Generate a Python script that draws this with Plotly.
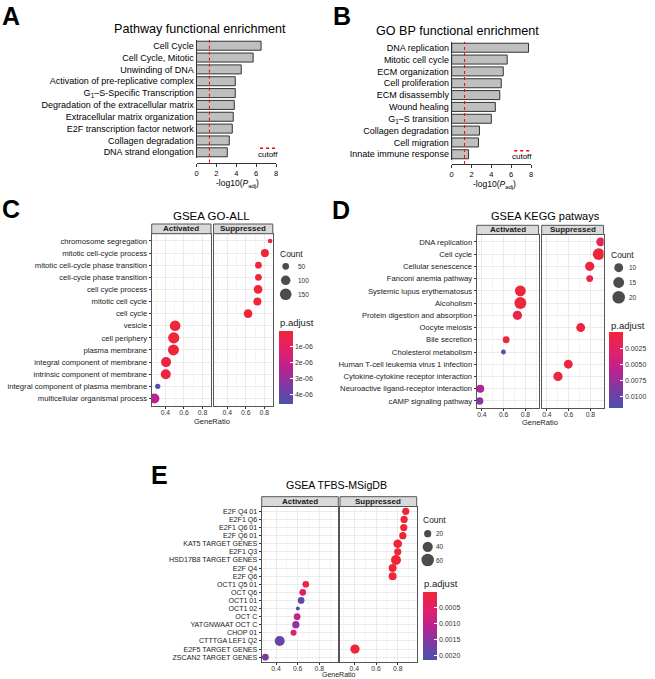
import plotly.graph_objects as go

W, H = 655, 679
FONT = "Arial, Liberation Sans, sans-serif"

# ---------------- data ----------------
A_TERMS = ["Cell Cycle", "Cell Cycle, Mitotic", "Unwinding of DNA",
           "Activation of pre-replicative complex",
           "G<sub>1</sub>–S-Specific Transcription",
           "Degradation of the extracellular matrix",
           "Extracellular matrix organization", "E2F transcription factor network",
           "Collagen degradation", "DNA strand elongation"]
A_VALUES = [6.5, 5.7, 4.5, 3.9, 3.9, 3.8, 3.7, 3.6, 3.3, 3.1]

B_TERMS = ["DNA replication", "Mitotic cell cycle", "ECM organization",
           "Cell proliferation", "ECM disassembly", "Wound healing",
           "G<sub>1</sub>–S transition", "Collagen degradation", "Cell migration",
           "Innate immune response"]
B_VALUES = [7.75, 5.6, 5.2, 5.0, 4.85, 4.4, 4.0, 2.8, 2.7, 1.7]

CUTOFF = 1.3  # -log10(0.05)
BAR_TICKS = [0, 2, 4, 6, 8]

C_TERMS = ["chromosome segregation", "mitotic cell-cycle process",
           "mitotic cell-cycle phase transition", "cell-cycle phase transition",
           "cell cycle process", "mitotic cell cycle", "cell cycle", "vesicle",
           "cell periphery", "plasma membrane", "integral component of membrane",
           "intrinsic component of membrane", "integral component of plasma membrane",
           "multicellular organismal process"]
C_GROUP = ["Suppressed", "Suppressed", "Suppressed", "Suppressed", "Suppressed",
           "Suppressed", "Suppressed", "Activated", "Activated", "Activated",
           "Activated", "Activated", "Activated", "Activated"]
C_RATIO = [0.863, 0.807, 0.737, 0.737, 0.733, 0.726, 0.625, 0.505, 0.49, 0.487,
           0.407, 0.404, 0.317, 0.281]
C_COUNT = [24, 71, 50, 50, 84, 71, 84, 127, 141, 134, 111, 111, 31, 111]
C_PADJ = [1e-8, 2e-8, 1e-7, 1e-7, 2e-8, 2e-8, 5e-8, 5e-8, 5e-8, 5e-8, 2e-7, 2e-7,
          4.5e-6, 2.3e-6]
C_SIZE_KEYS = [50, 100, 150]
C_P_TICKS = [1e-6, 2e-6, 3e-6, 4e-6]
C_P_LABELS = ["1e-06", "2e-06", "3e-06", "4e-06"]
C_P_RANGE = [0, 4.6e-6]

D_TERMS = ["DNA replication", "Cell cycle", "Cellular senescence",
           "Fanconi anemia pathway", "Systemic lupus erythematosus", "Alcoholism",
           "Protein digestion and absorption", "Oocyte meiosis", "Bile secretion",
           "Cholesterol metabolism", "Human T-cell leukemia virus 1 infection",
           "Cytokine-cytokine receptor interaction",
           "Neuroactive ligand-receptor interaction", "cAMP signaling pathway"]
D_GROUP = ["Suppressed", "Suppressed", "Suppressed", "Suppressed", "Activated",
           "Activated", "Activated", "Suppressed", "Activated", "Activated",
           "Suppressed", "Suppressed", "Activated", "Activated"]
D_RATIO = [0.895, 0.877, 0.794, 0.794, 0.754, 0.754, 0.727, 0.711, 0.623, 0.598,
           0.597, 0.502, 0.385, 0.379]
D_COUNT = [10, 18, 11, 6, 15, 18, 11, 10, 6, 3, 10, 11, 8, 7]
D_PADJ = [0.0015, 0.0002, 0.0005, 0.0012, 0.0003, 0.0003, 0.0011, 0.0005, 0.0006,
          0.0105, 0.0005, 0.0004, 0.0065, 0.0085]
D_SIZE_KEYS = [10, 15, 20]
D_P_TICKS = [0.0025, 0.005, 0.0075, 0.01]
D_P_LABELS = ["0.0025", "0.0050", "0.0075", "0.0100"]
D_P_RANGE = [0, 0.0117]

E_TERMS = ["E2F Q4 01", "E2F1 Q6", "E2F1 Q6 01", "E2F Q6 01", "KAT5 TARGET GENES",
           "E2F1 Q3", "HSD17B8 TARGET GENES", "E2F Q4", "E2F Q6", "OCT1 Q5 01",
           "OCT Q6", "OCT1 01", "OCT1 02", "OCT C", "YATGNWAAT OCT C", "CHOP 01",
           "CTTTGA LEF1 Q2", "E2F5 TARGET GENES", "ZSCAN2 TARGET GENES"]
E_GROUP = ["Suppressed", "Suppressed", "Suppressed", "Suppressed", "Suppressed",
           "Suppressed", "Suppressed", "Suppressed", "Suppressed", "Activated",
           "Activated", "Activated", "Activated", "Activated", "Activated",
           "Activated", "Activated", "Suppressed", "Activated"]
E_RATIO = [0.874, 0.859, 0.856, 0.847, 0.80, 0.80, 0.784, 0.753, 0.753, 0.675,
           0.647, 0.632, 0.602, 0.595, 0.583, 0.562, 0.434, 0.406, 0.302]
E_COUNT = [20, 20, 20, 20, 29, 20, 38, 24, 24, 17, 17, 17, 6, 17, 20, 14, 38, 33, 17]
E_PADJ = [1e-5, 1e-5, 1e-5, 1e-5, 1e-5, 1e-5, 1e-5, 1e-5, 1e-5, 0.0002, 0.0006,
          0.0019, 0.0021, 0.0009, 0.0014, 0.0006, 0.0018, 3e-5, 0.0016]
E_SIZE_KEYS = [20, 40, 60]
E_P_TICKS = [0.0005, 0.001, 0.0015, 0.002]
E_P_LABELS = ["0.0005", "0.0010", "0.0015", "0.0020"]
E_P_RANGE = [0, 0.00213]

# red (low p) -> blue (high p); index 0 = high p because colour uses -p
COLORSCALE = [[0, "#4A52AE"], [0.25, "#7B3AA3"], [0.5, "#BE2190"],
              [0.75, "#E2206A"], [1, "#EF2636"]]


def fx(px):
    return px / W


def fy(py):
    return 1 - py / H


fig = go.Figure()
layout = {}
shapes = []
annotations = []


def text(x, y, s, size, xanchor="center", yanchor="middle", color="black"):
    annotations.append(dict(x=fx(x), y=fy(y), xref="paper", yref="paper", text=s,
                            showarrow=False, xanchor=xanchor, yanchor=yanchor,
                            font=dict(size=size, color=color, family=FONT)))


# ---------------- bar panels (A, B) ----------------
def bar_panel(i, terms, values, xdom, ydom, axis_y, title, title_xy, xt_xy, leg_xy):
    n = len(terms)
    fig.add_trace(go.Bar(x=values, y=terms, orientation="h", xaxis=f"x{i}", yaxis=f"y{i}",
                         marker=dict(color="#BFBFBF", line=dict(color="#333333", width=1)),
                         width=0.76, showlegend=False))
    layout[f"xaxis{i}"] = dict(domain=[fx(xdom[0]), fx(xdom[1])], anchor="free",
                               position=fy(axis_y), range=[0, 8], tickvals=BAR_TICKS,
                               showline=True, linecolor="#333333", linewidth=1,
                               ticks="outside", ticklen=3, tickcolor="#333333",
                               tickfont=dict(size=7.5, color="black"), showgrid=False,
                               zeroline=False)
    layout[f"yaxis{i}"] = dict(domain=[fy(ydom[1]), fy(ydom[0])], anchor=f"x{i}",
                               type="category", categoryorder="array", categoryarray=terms,
                               tickmode="array", tickvals=terms,
                               range=[n - 0.5, -0.5], showline=True, linecolor="#333333",
                               linewidth=1, ticks="", tickfont=dict(size=9, color="black"),
                               showgrid=False, zeroline=False)
    shapes.append(dict(type="line", xref=f"x{i}", yref="paper", x0=CUTOFF, x1=CUTOFF,
                       y0=fy(axis_y), y1=fy(ydom[0]),
                       line=dict(color="red", width=1, dash="dot")))
    shapes.append(dict(type="line", xref="paper", yref="paper",
                       x0=fx(leg_xy[0] - 7.5), x1=fx(leg_xy[0] + 7.5),
                       y0=fy(leg_xy[1]), y1=fy(leg_xy[1]),
                       line=dict(color="red", width=1.5, dash="dot")))
    text(leg_xy[0], leg_xy[1] + 6, "cutoff", 8)
    text(title_xy[0], title_xy[1], title, 12.6)
    text(xt_xy[0], xt_xy[1], "-log10(<i>P</i><sub>adj</sub>)", 8.5)


bar_panel(1, A_TERMS, A_VALUES, (196.5, 276), (39.8, 158.2), 162.7,
          "Pathway functional enrichment", (200, 29), (238, 184), (267.5, 148.3))
bar_panel(2, B_TERMS, B_VALUES, (451.7, 531), (41.8, 160.2), 164,
          "GO BP functional enrichment", (457, 31), (494, 185), (521.7, 150.7))


# ---------------- dot panels (C, D, E) ----------------
def dot_panel(k, cax, terms, groups, ratios, counts, padj, sizeref, xrange,
              xact, xsup, strip, ydom, yfont, title, title_xy, title_size, xt_y, xt_size,
              keys, leg_x, leg_ydom, leg_lab_x, count_xy,
              pticks, plabels, prange, cbar_x, cbar_top, cbar_bot, padj_xy):
    n = len(terms)
    for j, (grp, xd) in enumerate([("Activated", xact), ("Suppressed", xsup)]):
        i = k + j
        idx = [m for m in range(n) if groups[m] == grp]
        fig.add_trace(go.Scatter(
            x=[ratios[m] for m in idx], y=[terms[m] for m in idx], mode="markers",
            xaxis=f"x{i}", yaxis=f"y{i}", showlegend=False,
            marker=dict(size=[counts[m] for m in idx], sizemode="area", sizeref=sizeref,
                        color=[-padj[m] for m in idx], coloraxis=f"coloraxis{cax}",
                        line=dict(width=0), opacity=1)))
        layout[f"xaxis{i}"] = dict(
            domain=[fx(xd[0]), fx(xd[1])], anchor=f"y{i}", range=xrange, dtick=0.2, tick0=0,
            showline=True, mirror=True, linecolor="#555555", linewidth=1,
            ticks="outside", ticklen=2, tickcolor="#333333", ticklabelstandoff=-2,
            tickfont=dict(size=6.8, color="#333333"), showgrid=True, gridcolor="#EBEBEB",
            gridwidth=0.8, zeroline=False,
            minor=dict(dtick=0.1, tick0=0, showgrid=True, gridcolor="#F4F4F4", gridwidth=0.6))
        layout[f"yaxis{i}"] = dict(
            domain=[fy(ydom[1]), fy(ydom[0])], anchor=f"x{i}", type="category",
            categoryorder="array", categoryarray=terms, tickmode="array", tickvals=terms,
            range=[n - 0.4, -0.6],
            showline=True, mirror=True, linecolor="#555555", linewidth=1,
            ticks="outside" if j == 0 else "", ticklen=2, tickcolor="#333333",
            showticklabels=(j == 0), tickfont=dict(size=yfont, color="#222222"),
            showgrid=True, gridcolor="#EBEBEB", gridwidth=0.8, zeroline=False)
        shapes.append(dict(type="rect", xref="paper", yref="paper",
                           x0=fx(xd[0]), x1=fx(xd[1]), y0=fy(strip[1]), y1=fy(strip[0]),
                           fillcolor="#D9D9D9", line=dict(color="#555555", width=1)))
        text((xd[0] + xd[1]) / 2, (strip[0] + strip[1]) / 2, f"<b>{grp}</b>", 8,
             color="#1A1A1A")

    # size legend
    li = k + 2
    m = len(keys)
    layout[f"xaxis{li}"] = dict(domain=[fx(leg_x - 8), fx(leg_x + 8)], range=[-1, 1],
                                visible=False, anchor=f"y{li}")
    layout[f"yaxis{li}"] = dict(domain=[fy(leg_ydom[1]), fy(leg_ydom[0])],
                                range=[m - 0.5, -0.5], visible=False, anchor=f"x{li}")
    fig.add_trace(go.Scatter(x=[0] * m, y=list(range(m)), mode="markers",
                             xaxis=f"x{li}", yaxis=f"y{li}", showlegend=False,
                             marker=dict(size=keys, sizemode="area", sizeref=sizeref,
                                         color="black", line=dict(width=0))))
    step = (leg_ydom[1] - leg_ydom[0]) / m
    for q, key in enumerate(keys):
        text(leg_lab_x, leg_ydom[0] + (q + 0.5) * step, str(key), 6.5,
             xanchor="left", color="#333333")
    text(count_xy[0], count_xy[1], "Count", 8.5, xanchor="left", color="#1A1A1A")

    # colour bar (colour uses -p so that the smallest p sits at the top)
    layout[f"coloraxis{cax}"] = dict(
        colorscale=COLORSCALE, cmin=-prange[1], cmax=-prange[0],
        colorbar=dict(x=fx(cbar_x), xanchor="left", y=fy(cbar_top), yanchor="top",
                      len=cbar_bot - cbar_top, lenmode="pixels", thickness=14,
                      xpad=0, ypad=0, outlinewidth=0, ticks="inside", ticklen=3,
                      tickcolor="white", tickvals=[-t for t in pticks], ticktext=plabels,
                      tickfont=dict(size=7, color="#333333")))
    text(padj_xy[0], padj_xy[1], "p.adjust", 9.5, xanchor="left", color="#1A1A1A")

    text(title_xy[0], title_xy[1], title, title_size)
    text((xact[0] + xsup[1]) / 2, xt_y, "GeneRatio", xt_size, color="#1A1A1A")


dot_panel(3, 1, C_TERMS, C_GROUP, C_RATIO, C_COUNT, C_PADJ, 2.216, [0.252, 0.892],
          (151.7, 211.0), (213.5, 272.8), (224, 233.7), (233.7, 405.7), 7.7,
          "GSEA GO-ALL", (211, 216), 11.5, 421, 7.5,
          C_SIZE_KEYS, 285.7, (259.3, 301.3), 295.5, (277.7, 254),
          C_P_TICKS, C_P_LABELS, C_P_RANGE, 279, 331, 404, (278, 322))

dot_panel(6, 2, D_TERMS, D_GROUP, D_RATIO, D_COUNT, D_PADJ, 0.2551, [0.352, 0.922],
          (476.7, 538.6), (541.7, 603.6), (225.3, 234.5), (234.5, 408.3), 7.7,
          "GSEA KEGG patways", (545, 216), 11, 422.5, 7.5,
          D_SIZE_KEYS, 618.7, (260.3, 304.7), 627, (609.3, 255),
          D_P_TICKS, D_P_LABELS, D_P_RANGE, 609, 332, 408.3, (608.5, 325))

dot_panel(9, 3, E_TERMS, E_GROUP, E_RATIO, E_COUNT, E_PADJ, 0.762, [0.268, 0.975],
          (261.7, 338.3), (340, 416.7), (496.7, 506.5), (506.5, 662), 7.1,
          "GSEA TFBS-MSigDB", (336.7, 485), 10.6, 674.8, 7,
          E_SIZE_KEYS, 427.7, (527.1, 566.6), 434, (421, 520),
          E_P_TICKS, E_P_LABELS, E_P_RANGE, 422.7, 591.7, 660, (422, 583.3))

# panel letters
for lab, x, y in [("A", 0, 15.5), ("B", 331, 15.5), ("C", 0, 209), ("D", 330, 209.5),
                  ("E", 149, 475)]:
    text(x, y, f"<b>{lab}</b>", 25, xanchor="left")

fig.update_layout(**layout)
fig.update_layout(template="none", width=W, height=H, autosize=False,
                  margin=dict(l=0, r=0, t=0, b=0, pad=0),
                  paper_bgcolor="white", plot_bgcolor="white",
                  font=dict(family=FONT, color="black"),
                  shapes=shapes, annotations=annotations, showlegend=False)

fig.write_html("out.html", config={"displayModeBar": False},
               post_script="document.body.style.margin='0px';")
